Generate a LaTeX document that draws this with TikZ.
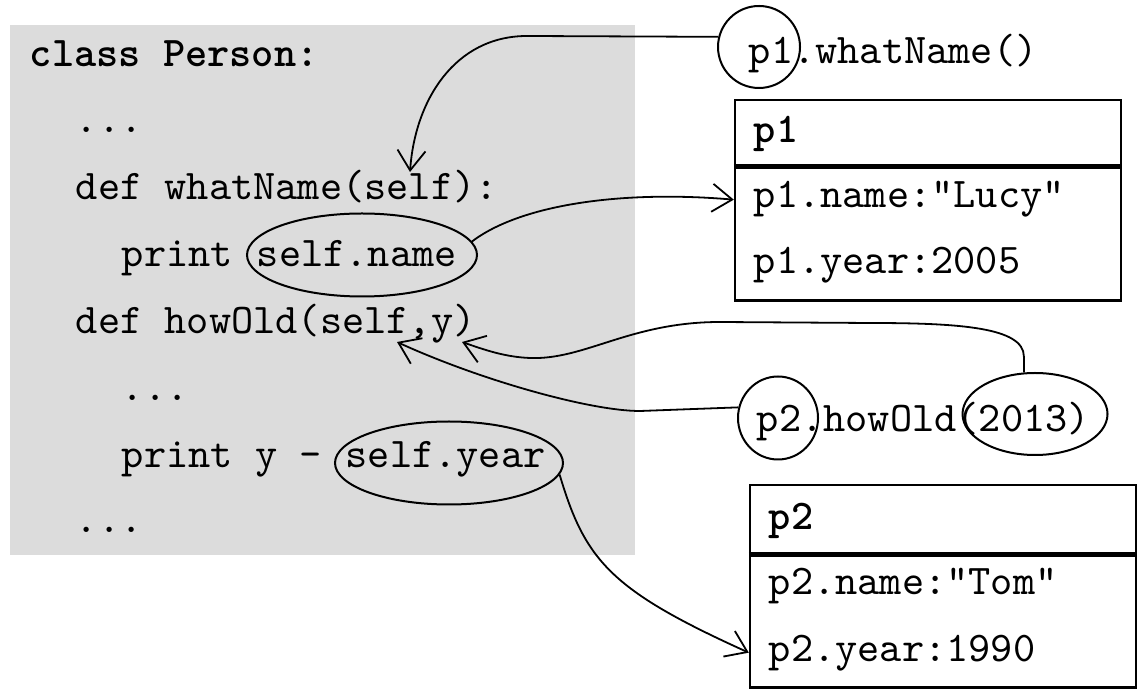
\documentclass[tikz,border=0pt]{standalone}
\usetikzlibrary{arrows.meta,positioning,shapes.geometric}
\definecolor{codegray}{RGB}{220,220,220}
\begin{document}
\begin{tikzpicture}[x=0.25pt, y=-0.25pt, >={Straight Barb[length=5pt,width=7pt]}, line width=0.45pt]
	\tikzstyle{code}=[inner sep=0, anchor=base west, font=\ttfamily\fontsize{10.57pt}{12pt}\selectfont]
	\tikzstyle{codebf}=[code, font=\ttfamily\bfseries\fontsize{10.57pt}{12pt}\selectfont]
	\tikzstyle{ring}=[draw, ellipse, inner sep=0, line width=0.5pt]
	\tikzstyle{cell}=[draw, line width=0.6pt, inner sep=0, minimum width=96.5pt]
	\useasboundingbox (0,0) rectangle (1143,693);
	\node[fill=codegray, inner sep=0, minimum width=156.25pt, minimum height=132.5pt] (classbox) at (322.5,290) {};
	% the class body
	\node[codebf] (classline) at (29,67) {class Person:};
	\node[code] (dotsa) at (75,133) {...};
	\node[code] (defname) at (75,200) {def whatName(self):};
	\node[code] (printname) at (121,267) {print};
	\node[code, right=5.55pt of printname.base east, anchor=base west] (selfname) {self.name};
	\node[code] (defold) at (75,334) {def howOld(self,y)};
	\node[code] (dotsb) at (121,401) {...};
	\node[code] (printyear) at (121,468) {print y -};
	\node[code, right=5.55pt of printyear.base east, anchor=base west] (selfyear) {self.year};
	\node[code] (dotsc) at (75,533) {...};
	\node[ring, minimum width=57.5pt, minimum height=20.75pt] (nameoval) at (362,255) {};
	\node[ring, minimum width=57pt, minimum height=20.75pt] (yearoval) at (449,463) {};
	% the calls
	\node[code] (callone) at (748,64) {p1.whatName()};
	\node[ring, minimum width=20.5pt, minimum height=20.5pt] (p1ring) at (759,47) {};
	\node[code] (calltwo) at (756,432) {p2.howOld(2013)};
	\node[ring, minimum width=20pt, minimum height=20.75pt] (p2ring) at (778,418) {};
	\node[ring, minimum width=36.25pt, minimum height=20.5pt] (yearring) at (1035,414) {};
	% the objects
	\node[cell, minimum height=16.25pt] (p1head) at (928,132.5) {};
	\node[cell, minimum height=33.25pt, below=0pt of p1head] (p1body) {};
	\draw[line width=1pt] (p1head.south west) -- (p1head.south east);
	\node[codebf] (p1title) at (753,143) {p1};
	\node[code] (p1nm) at (753,208) {p1.name:"Lucy"};
	\node[code] (p1yr) at (753,274) {p1.year:2005};
	\node[cell, minimum height=17pt] (p2head) at (943,519) {};
	\node[cell, minimum height=33pt, below=0pt of p2head] (p2body) {};
	\draw[line width=1pt] (p2head.south west) -- (p2head.south east);
	\node[codebf] (p2title) at (768,529) {p2};
	\node[code] (p2nm) at (768,594) {p2.name:"Tom"};
	\node[code] (p2yr) at (768,661) {p2.year:1990};
	\coordinate (selfarg) at (410,172);
	\coordinate (selfpar) at (397,342);
	\coordinate (ypar) at (462,342);
	\draw[->] (p1ring.166) -- (527,36) .. controls (455,36) and (415,100) .. (selfarg);
	\draw[->] (nameoval.7) .. controls (520,205) and (620,190) .. (p1body.west |- p1nm);
	\draw[->] (yearoval.-6) .. controls (585,560) and (610,590) .. (p2body.west |- p2yr);
	\draw[->] (yearring.105) -- ++(0,-16) .. controls +(0,-29) and (960,323) .. (870,323) -- (720,322) .. controls (630,322) and (585,360) .. (530,358) .. controls (505,357) and (485,350) .. (ypar);
	\draw[->] (p2ring.165) -- (640,411) .. controls (590,411) and (480,380) .. (selfpar);
\end{tikzpicture}
\end{document}
